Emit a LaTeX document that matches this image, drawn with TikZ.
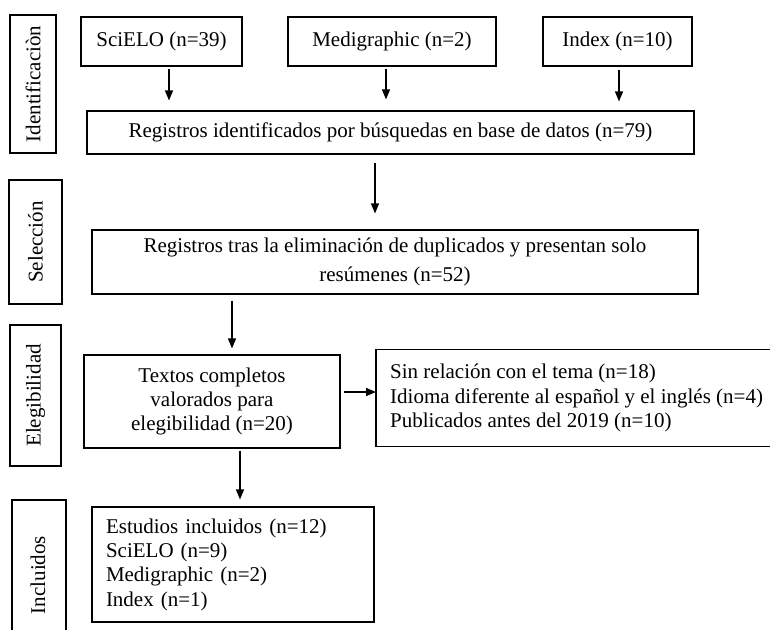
\documentclass[tikz,border=0pt]{standalone}
\usepackage{fontspec}
\setmainfont{Liberation Serif}
\usetikzlibrary{arrows.meta}
\begin{document}
\begin{tikzpicture}[x=1pt,y=-1pt,
  txtfont/.style={font=\fontsize{21}{24.3}\selectfont},
  box/.style={draw, line width=1.1pt, inner sep=0pt, align=center, txtfont},
  lbl/.style={draw, line width=1.1pt, inner sep=0pt, rotate=90, txtfont},
  arr/.style={-{Triangle[length=10pt,width=8pt]}, line width=1.3pt}]
\useasboundingbox (0,0) rectangle (770,629);

% stage labels
\node[lbl, minimum width=138pt, minimum height=46pt] (lid) at (33,84) {Identificaciòn};
\node[lbl, minimum width=124pt, minimum height=53pt] (lsel) at (35.5,242) {Selección};
\node[lbl, minimum width=141pt, minimum height=51pt] (leleg) at (35.5,395.5) {Elegibilidad};
\node[inner sep=0pt, rotate=90, txtfont] (linc) at (38,575) {Incluidos};
\draw[line width=1.1pt] (12,630) |- (66,500) -- (66,630);

% sources
\node[box, minimum width=161pt, minimum height=49pt] (sci) at (161.5,41.5) {SciELO (n=39)};
\node[box, minimum width=208pt, minimum height=49pt] (med) at (392,41.5) {Medigraphic (n=2)};
\node[box, minimum width=149pt, minimum height=49pt] (idx) at (617.5,41.5) {Index (n=10)};

\node[box, minimum width=607pt, minimum height=43pt] (reg1) at (390.5,132.5)
  {Registros identificados por búsquedas en base de datos (n=79)};

\node[box, minimum width=606pt, minimum height=64pt, font=\fontsize{21}{28.5}\selectfont] (reg2) at (395,262)
  {Registros tras la eliminación de duplicados y presentan solo\\resúmenes (n=52)};

\node[box, minimum width=256pt, minimum height=93pt] (txt) at (212,401.5)
  {Textos completos\\valorados para\\elegibilidad (n=20)};

\node[inner xsep=14pt, inner ysep=0pt, minimum height=96pt, align=left, anchor=west, txtfont] (excl) at (376,398)
  {Sin relación con el tema (n=18)\\Idioma diferente al español y el inglés (n=4)\\Publicados antes del 2019 (n=10)};
\draw[line width=1.1pt] (excl.north west) ++(396,0) -| (excl.south west) -- ++(396,0);

\node[box, minimum width=282pt, minimum height=115pt, text width=254pt, inner xsep=14pt, align=left] (inc) at (233,564.5)
  {Estudios incluidos (n=12)\\SciELO (n=9)\\Medigraphic (n=2)\\Index (n=1)};

% connectors
\draw[arr, shorten <=2pt, shorten >=10pt] ([xshift=7.5pt]sci.south) -- ([xshift=7.5pt]sci.south |- reg1.north);
\draw[arr, shorten <=2pt, shorten >=11pt] ([xshift=-6pt]med.south) -- ([xshift=-6pt]med.south |- reg1.north);
\draw[arr, shorten <=3pt, shorten >=9pt] ([xshift=1.5pt]idx.south) -- ([xshift=1.5pt]idx.south |- reg1.north);
\draw[arr, shorten <=8pt, shorten >=16pt] ([xshift=-15.5pt]reg1.south) -- ([xshift=-15.5pt]reg1.south |- reg2.north);
\draw[arr, shorten <=6pt, shorten >=6pt] ([xshift=20pt]txt.north |- reg2.south) -- ([xshift=20pt]txt.north);
\draw[arr, shorten <=3pt] ([yshift=9.5pt]txt.east) -- ([yshift=9.5pt]txt.east -| excl.west);
\draw[arr, shorten <=2pt, shorten >=7pt] ([xshift=28pt]txt.south) -- ([xshift=28pt]txt.south |- inc.north);
\end{tikzpicture}
\end{document}
